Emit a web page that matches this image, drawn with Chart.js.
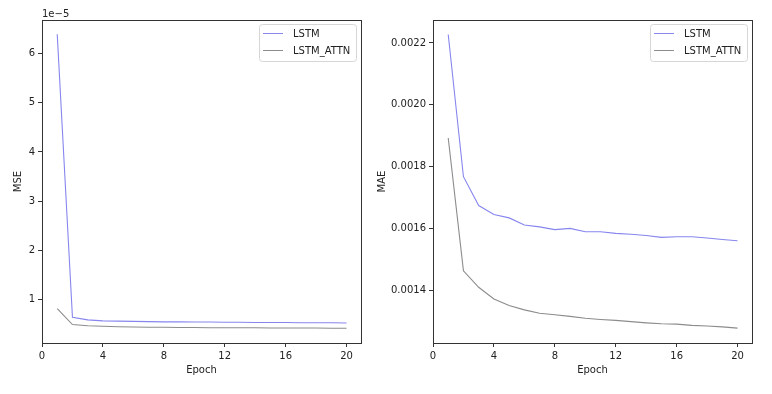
<!DOCTYPE html>
<html>
<head>
<meta charset="utf-8">
<script src="https://cdn.jsdelivr.net/npm/chart.js@4"></script>
<style>
  body { margin: 0; background: #fff; }
  #wrap { position: relative; width: 772px; height: 394px; overflow: hidden; }
  canvas { position: absolute; top: 0; }
</style>
</head>
<body>
<div id="wrap">
  <canvas id="mseChart" width="386" height="394" style="left:0"></canvas>
  <canvas id="maeChart" width="400" height="394" style="left:372px"></canvas>
</div>
<script>
// epochs and series
const epochs = [1, 2, 3, 4, 5, 6, 7, 8, 9, 10, 11, 12, 13, 14, 15, 16, 17, 18, 19, 20];

// MSE, in units of 1e-5
const mseLstm = [6.39, 0.64, 0.59, 0.57, 0.565, 0.56, 0.555, 0.55, 0.55, 0.545, 0.545, 0.54, 0.54, 0.535, 0.535, 0.535, 0.53, 0.53, 0.53, 0.525];
const mseAttn = [0.82, 0.495, 0.47, 0.46, 0.45, 0.445, 0.44, 0.44, 0.435, 0.435, 0.43, 0.43, 0.43, 0.43, 0.425, 0.425, 0.425, 0.425, 0.42, 0.42];

const maeLstm = [0.002227, 0.001768, 0.001675, 0.001646, 0.001635, 0.001612, 0.001606, 0.001597, 0.001601, 0.00159,
                 0.00159, 0.001585, 0.001582, 0.001578, 0.001572, 0.001574, 0.001574, 0.00157, 0.001565, 0.001561];
const maeAttn = [0.001893, 0.001464, 0.001411, 0.001373, 0.001352, 0.001338, 0.001327, 0.001322, 0.001317, 0.001311,
                 0.001307, 0.001304, 0.0013, 0.001296, 0.001293, 0.001292, 0.001288, 0.001286, 0.001283, 0.001279];

const epochTicks = [0, 4, 8, 12, 16, 20];
const mseTicks = [1, 2, 3, 4, 5, 6];
const maeTicks = [0.0014, 0.0016, 0.0018, 0.0020, 0.0022];
const seriesNames = ['LSTM', 'LSTM_ATTN'];

const lstmColor = '#8686ee';
const attnColor = '#8c8c8c';
const axisColor = '#333';
const fontFamily = '"DejaVu Sans", sans-serif';

Chart.defaults.font.family = fontFamily;
Chart.defaults.font.size = 10;
Chart.defaults.color = '#222';

function points(ys, scale) {
  return epochs.map((x, i) => ({ x: x, y: ys[i] * scale }));
}

// matplotlib-ish frame (top/right spines) and legend inside the axes
const framePlugin = {
  id: 'frame',
  afterDraw(chart, args, opts) {
    const { ctx, chartArea: a } = chart;
    ctx.save();
    ctx.strokeStyle = axisColor;
    ctx.lineWidth = 1;
    ctx.strokeRect(Math.round(a.left) + 0.5, Math.round(a.top) + 0.5,
                   Math.round(a.right - a.left), Math.round(a.bottom - a.top));

    // legend box
    const bw = 97, bh = 37;
    const bx = a.right - 5 - bw, by = a.top + 4;
    ctx.fillStyle = 'rgba(255,255,255,0.85)';
    ctx.strokeStyle = '#d6d6d6';
    ctx.beginPath();
    ctx.roundRect(bx + 0.5, by + 0.5, bw, bh, 3);
    ctx.fill();
    ctx.stroke();
    const colors = [lstmColor, attnColor];
    ctx.font = '10px ' + fontFamily;
    ctx.textBaseline = 'middle';
    seriesNames.forEach((name, i) => {
      const ly = by + 9 + i * 17;
      ctx.strokeStyle = colors[i];
      ctx.beginPath();
      ctx.moveTo(bx + 4, ly + 0.5);
      ctx.lineTo(bx + 24, ly + 0.5);
      ctx.stroke();
      ctx.fillStyle = '#222';
      ctx.fillText(name, bx + 34, ly + 1);
    });

    if (opts.offsetText) {
      ctx.textBaseline = 'alphabetic';
      ctx.fillStyle = '#222';
      ctx.fillText(opts.offsetText, a.left, a.top - 3);
    }
    ctx.restore();
  }
};

function makeChart(id, ys1, ys2, factor, yTicks, yMin, yMax, yTitle, yWidth, yTitlePad, rightPad, fmt, offsetText) {
  return new Chart(document.getElementById(id).getContext('2d'), {
    type: 'line',
    data: {
      datasets: [
        { label: seriesNames[0], data: points(ys1, factor), borderColor: lstmColor, borderWidth: 1.1, pointRadius: 0, tension: 0 },
        { label: seriesNames[1], data: points(ys2, factor), borderColor: attnColor, borderWidth: 1.1, pointRadius: 0, tension: 0 }
      ]
    },
    options: {
      responsive: false,
      animation: false,
      layout: { padding: { top: 20, right: rightPad, bottom: 0, left: 0 } },
      plugins: { legend: { display: false }, tooltip: { enabled: false }, frame: { offsetText: offsetText } },
      scales: {
        x: {
          type: 'linear',
          min: 0,
          max: 20.95,
          afterBuildTicks: s => { s.ticks = epochTicks.map(v => ({ value: v })); },
          afterFit: s => { s.height = 51; },
          ticks: { padding: 3, maxRotation: 0, autoSkip: false, color: '#222' },
          grid: { drawOnChartArea: false, drawTicks: true, tickLength: 4, color: axisColor },
          border: { color: axisColor },
          title: { display: true, text: 'Epoch', color: '#222', padding: { top: 0, bottom: 18 } }
        },
        y: {
          type: 'linear',
          min: yMin,
          max: yMax,
          afterBuildTicks: s => { s.ticks = yTicks.map(v => ({ value: v * factor })); },
          afterFit: s => { s.width = yWidth; },
          ticks: { padding: 3, autoSkip: false, color: '#222', callback: v => fmt(v / factor) },
          grid: { drawOnChartArea: false, drawTicks: true, tickLength: 4, color: axisColor },
          border: { color: axisColor },
          title: { display: true, text: yTitle, color: '#222', padding: { top: yTitlePad, bottom: 0 } }
        }
      }
    },
    plugins: [framePlugin]
  });
}

makeChart('mseChart', mseLstm, mseAttn, 1e-5, mseTicks, 0.12e-5, 6.68e-5, 'MSE', 42, 12, 25,
          v => String(Math.round(v)), '1e\u22125');
makeChart('maeChart', maeLstm, maeAttn, 1, maeTicks, 0.001231, 0.002274, 'MAE', 61, 4, 20,
          v => v.toFixed(4), null);
</script>
</body>
</html>
